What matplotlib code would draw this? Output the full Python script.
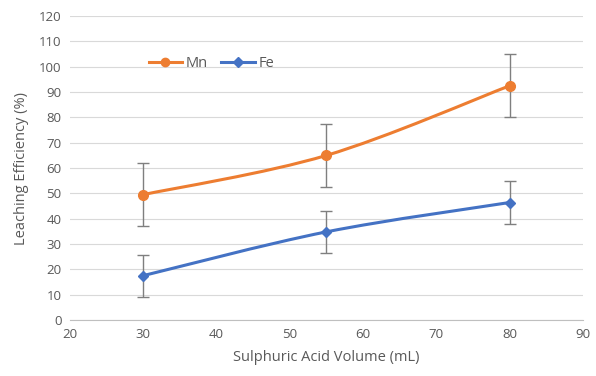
import numpy as np
import matplotlib
matplotlib.use('Agg')
import matplotlib.pyplot as plt
from matplotlib.path import Path
from matplotlib.patches import PathPatch

volume = [30, 55, 80]
mn = [49.5, 65.0, 92.5]
mn_err = [12.5, 12.5, 12.5]
fe = [17.5, 34.8, 46.4]
fe_err = [8.3, 8.3, 8.3]

plt.rcParams['font.family'] = ['Open Sans', 'DejaVu Sans']


def smooth_path(ax, xs, ys, color):
    # Excel-style smoothed line: cubic bezier with catmull-rom control points
    pts = np.column_stack([xs, ys]).astype(float)
    verts = [pts[0]]
    codes = [Path.MOVETO]
    n = len(pts)
    for i in range(n - 1):
        p0 = pts[max(i - 1, 0)]
        p1 = pts[i]
        p2 = pts[i + 1]
        p3 = pts[min(i + 2, n - 1)]
        c1 = p1 + (p2 - p0) / 6
        c2 = p2 - (p3 - p1) / 6
        verts += [c1, c2, p2]
        codes += [Path.CURVE4] * 3
    ax.add_patch(PathPatch(Path(verts, codes), fill=False, edgecolor=color,
                           lw=2.2, capstyle='round', zorder=3))


fig = plt.figure(figsize=(5.96, 3.76), dpi=100)
ax = fig.add_axes([0.117, 0.149, 0.861, 0.808])

orange = '#ED7D31'
blue = '#4472C4'
grey = '#7F7F7F'

smooth_path(ax, volume, mn, orange)
smooth_path(ax, volume, fe, blue)

ax.errorbar(volume, mn, yerr=mn_err, fmt='none', ecolor=grey, elinewidth=1,
            capsize=4, capthick=1, zorder=2)
ax.errorbar(volume, fe, yerr=fe_err, fmt='none', ecolor=grey, elinewidth=1,
            capsize=4, capthick=1, zorder=2)
ax.plot(volume, mn, 'o', color=orange, ms=7, zorder=4)
ax.plot(volume, fe, 'D', color=blue, ms=5.5, zorder=4)

# legend handles
ax.plot([], [], '-o', color=orange, lw=2.2, ms=6, label='Mn')
ax.plot([], [], '-D', color=blue, lw=2.2, ms=5, label='Fe')
ax.legend(loc='center left', bbox_to_anchor=(0.128, 0.845), ncol=2,
          frameon=False, fontsize=10.5, handlelength=2.3, columnspacing=0.9,
          handletextpad=0.25, labelcolor='#595959')

ax.set_xlim(20, 90)
ax.set_ylim(0, 120)
ax.set_xticks(range(20, 91, 10))
ax.set_yticks(range(0, 121, 10))
ax.grid(axis='y', color='#D9D9D9', lw=0.8)
ax.set_axisbelow(True)
for s in ['top', 'right', 'left']:
    ax.spines[s].set_visible(False)
ax.spines['bottom'].set_color('#BFBFBF')
ax.tick_params(length=0, labelsize=9.5, colors='#595959', pad=6)

ax.set_xlabel('Sulphuric Acid Volume (mL)', fontsize=10.5, color='#595959', labelpad=6)
ax.set_ylabel('Leaching Efficiency (%)', fontsize=10.5, color='#595959', labelpad=7)

fig.savefig('out.png', dpi=100)
